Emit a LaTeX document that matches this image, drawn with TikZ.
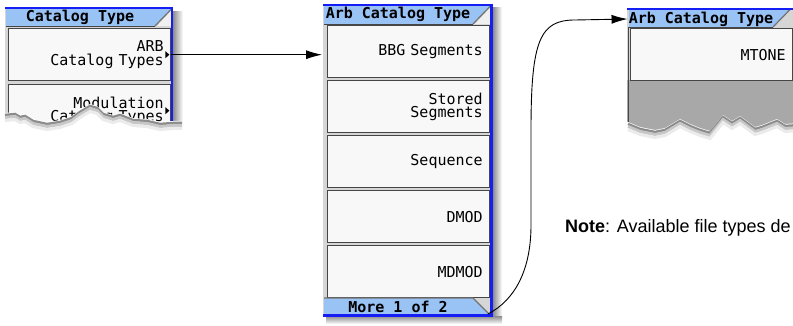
\documentclass[tikz,border=0pt]{standalone}
\usepackage{fontspec}
\setmainfont{Liberation Sans}
\newfontfamily\keyfont{DejaVu Sans Mono}
\newfontfamily\hdrfont{DejaVu Sans Mono}
\usetikzlibrary{arrows.meta}
\definecolor{hdrblue}{RGB}{153,194,245}
\definecolor{frameblue}{RGB}{20,30,245}
\definecolor{keyfill}{RGB}{248,248,248}
\definecolor{keyedge}{RGB}{70,70,70}
\definecolor{framegray}{RGB}{214,214,214}
\definecolor{tornbody}{RGB}{168,168,168}

\begin{document}
\begin{tikzpicture}[x=1pt, y=-1pt,
  softkey/.style={draw=keyedge, line width=1.4pt, fill=keyfill, anchor=north west, minimum width=162pt, minimum height=52pt, text width=148pt, inner xsep=7pt, align=right, font=\keyfont\fontsize{15}{13.5}\selectfont},
  menuhdr/.style={font=\hdrfont\bfseries\fontsize{15}{15}\selectfont, inner sep=0pt},
  slant/.style={black!55, line width=1.2pt},
  link/.style={-{Latex[length=16pt,width=9pt]}, line width=0.9pt}]
  \useasboundingbox (0,0) rectangle (793,326);
  \clip (0,0) rectangle (793,326);
  % catalog type menu (torn off)
  \shade[left color=black!45, right color=white] (173,12) rectangle (183,130);
  \fill[framegray] (5,8) rectangle (173,140);
  \fill[hdrblue] (6,9) -- (171,9) -- (155,26) -- (6,26) -- cycle;
  \fill[black!6] (157,26) -- (171,11) -- (171,26) -- cycle;
  \draw[slant] (155,26) -- (171.5,9);
  \draw[keyedge, line width=1pt] (6,26.5) -- (155,26.5);
  \draw[frameblue, line width=2pt] (5,8) -- (173,8);
  \node[menuhdr] (catHdr) at (80,17.5) {Catalog Type};
  \node[softkey] (arbKey) at (8,28) {ARB\\Catalog Types};
  \node[softkey] (modKey) at (8,84) {Modulation\\Catalog Types};
  \fill ([shift={(-6,-3.5)}]arbKey.east) -- ++(4,3.5) -- ++(-4,3.5) -- cycle;
  \fill ([shift={(-6,-3.5)}]modKey.east) -- ++(4,3.5) -- ++(-4,3.5) -- cycle;
  \draw[frameblue, line width=2.5pt] (172,8) -- (172,140);
  \def\tearA{(5,113) -- (15,112) -- (20,115) -- (25,114) -- (33,119) -- (47,122) -- (60,120) -- (72,116) -- (80,110) -- (90,104) -- (97,106) -- (103,112) -- (113,115) -- (120,113) -- (133,118) -- (147,119) -- (160,122) -- (173,121) -- (182,121)}
  \fill[white] (0,113) -- \tearA -- (190,121) -- (190,160) -- (0,160) -- cycle;
  \draw[black!45, line width=2.5pt, yshift=-2pt] \tearA;
  \draw[black!22, line width=3pt, yshift=-4.5pt] \tearA;
  \draw[black!8, line width=3pt, yshift=-7.5pt] \tearA;

  % arb catalog type menu
  \shade[left color=black!45, right color=white] (493,8) rectangle (502,318);
  \shade[top color=black!45, bottom color=white] (326,316) rectangle (502,324);
  \fill[framegray] (323,4) rectangle (493,316);
  \fill[hdrblue] (324,6) -- (490,6) -- (473,24) -- (324,24) -- cycle;
  \fill[black!6] (475,24) -- (490,8) -- (490,24) -- cycle;
  \draw[slant] (473,24) -- (490.5,6);
  \draw[keyedge, line width=1pt] (324,24.5) -- (473,24.5);
  \draw[frameblue, line width=2pt] (323,5) -- (493,5);
  \node[menuhdr] (arbHdr) at (398,14.5) {Arb Catalog Type};
  \node[softkey] (bbgKey) at (327,25) {BBG Segments};
  \node[softkey] (storedKey) at (327,80) {Stored\\Segments};
  \node[softkey] (seqKey) at (327,135) {Sequence};
  \node[softkey] (dmodKey) at (327,190) {DMOD};
  \node[softkey] (mdmodKey) at (327,245) {MDMOD};
  \fill[hdrblue] (324,298) -- (473,298) -- (489,314) -- (324,314) -- cycle;
  \draw[slant] (324,298) -- (473,298) -- (489,314);
  \node[menuhdr] (moreTab) at (398,307) {More 1 of 2};
  \draw[frameblue, line width=2.5pt] (323,315.5) -- (493,315.5);
  \draw[frameblue, line width=2.5pt] (491.5,4) -- (491.5,317);
  \coordinate (tabCorner) at (488,314);

  % next page of the arb menu (torn off)
  \fill[tornbody] (627,80) rectangle (800,140);
  \fill[framegray] (627,8) rectangle (800,80);
  \fill[hdrblue] (629,10) -- (790,10) -- (773,27) -- (629,27) -- cycle;
  \draw[slant] (773,27) -- (790.5,9);
  \draw[keyedge, line width=1pt] (629,27.5) -- (773,27.5);
  \draw[frameblue, line width=2pt] (627,9) -- (800,9);
  \node[menuhdr] (arbHdrC) at (701,19) {Arb Catalog Type};
  \node[softkey] (mtoneKey) at (630,28) {MTONE};
  \draw[keyedge, line width=1.4pt] (628.5,27) -- (628.5,124);
  \def\tearC{(628,122) -- (640,127) -- (655,130) -- (665,128) -- (680,119) -- (690,124) -- (700,128) -- (710,131) -- (723,115) -- (732,121) -- (740,116) -- (755,127) -- (762,125) -- (777,119) -- (785,124) -- (800,123)}
  \fill[white] (620,122) -- \tearC -- (800,160) -- (620,160) -- cycle;
  \draw[black!45, line width=2.5pt, yshift=-2pt] \tearC;
  \draw[black!22, line width=3pt, yshift=-4.5pt] \tearC;
  \draw[black!8, line width=3pt, yshift=-7.5pt] \tearC;

  % connectors
  \draw[link, shorten >=5pt] (arbKey.east) -- (arbKey.east -| bbgKey.west);
  \draw[link, shorten >=1pt] (tabCorner) .. controls (515,300) and (531,270) .. (531,225) -- (531,130) .. controls (531,40) and (540,20) .. (575,20) -- (arbHdrC.west);
  \node[anchor=west, font=\fontsize{18}{20}\selectfont, inner sep=0pt] (note) at (565,228) {\textbf{Note}: Available file types de};
\end{tikzpicture}
\end{document}
